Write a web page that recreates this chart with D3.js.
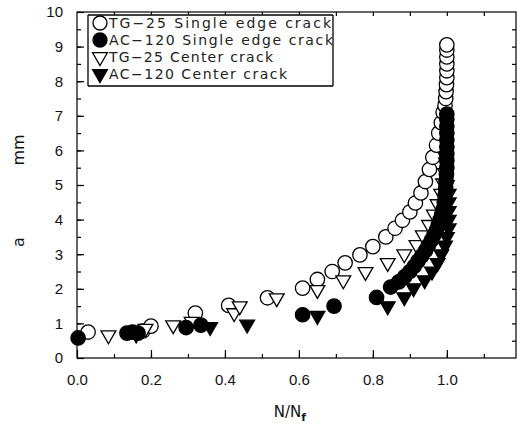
<!DOCTYPE html>
<html>
<head>
<meta charset="utf-8">
<script src="https://cdn.jsdelivr.net/npm/d3@7"></script>
<style>
  body { margin: 0; background: #fff; }
  svg { display: block; font-family: "DejaVu Sans", sans-serif; }
  .axis path { display: none; }
  .axis line { stroke: #000; stroke-width: 1.2; }
  .axis text { font-size: 15px; fill: #111; }
</style>
</head>
<body>
<div id="chart"></div>
<script>
// TG-25 single edge crack (open circles)
const tgEdgeX = [0.03, 0.178, 0.2, 0.32, 0.41, 0.515, 0.61, 0.65, 0.69, 0.725, 0.765, 0.80, 0.835, 0.86, 0.88, 0.90, 0.915, 0.93, 0.942, 0.953, 0.962, 0.972, 0.978, 0.985, 0.99, 0.995, 0.997, 0.998, 0.999, 1.0, 1.0, 1.0, 1.0, 1.0, 1.0];
const tgEdgeY = [0.75, 0.78, 0.92, 1.3, 1.52, 1.74, 2.02, 2.27, 2.5, 2.75, 2.98, 3.22, 3.5, 3.75, 3.98, 4.22, 4.48, 4.77, 5.1, 5.45, 5.8, 6.15, 6.5, 6.8, 7.1, 7.3, 7.5, 7.7, 7.9, 8.1, 8.3, 8.5, 8.7, 8.9, 9.05];
// AC-120 single edge crack (filled circles)
const acEdgeX = [0.003, 0.135, 0.15, 0.165, 0.295, 0.335, 0.61, 0.695, 0.81, 0.848, 0.87, 0.886, 0.9, 0.912, 0.922, 0.932, 0.942, 0.95, 0.958, 0.965, 0.972, 0.977, 0.982, 0.986, 0.99, 0.993, 0.995, 0.997, 0.998, 0.999, 1.0, 1.0, 1.0, 1.0, 1.0, 1.0, 1.0, 1.0, 1.0];
const acEdgeY = [0.58, 0.72, 0.75, 0.72, 0.88, 0.95, 1.25, 1.5, 1.75, 2.05, 2.2, 2.35, 2.5, 2.65, 2.8, 2.95, 3.1, 3.25, 3.4, 3.55, 3.7, 3.85, 4.0, 4.15, 4.3, 4.5, 4.7, 4.9, 5.1, 5.3, 5.5, 5.7, 5.9, 6.1, 6.3, 6.5, 6.7, 6.9, 7.05];
// TG-25 center crack (open triangles)
const tgCenterX = [0.085, 0.185, 0.26, 0.31, 0.425, 0.44, 0.54, 0.65, 0.72, 0.78, 0.84, 0.885, 0.918, 0.935, 0.952, 0.965, 0.975, 0.985, 0.99, 0.995, 0.998];
const tgCenterY = [0.66, 0.85, 0.95, 1.05, 1.3, 1.5, 1.73, 1.97, 2.25, 2.49, 2.75, 3.0, 3.27, 3.55, 3.85, 4.15, 4.45, 4.75, 5.05, 5.35, 5.65];
// AC-120 center crack (filled triangles)
const acCenterX = [0.16, 0.36, 0.46, 0.65, 0.84, 0.885, 0.91, 0.94, 0.96, 0.975, 0.985, 0.995, 1.0, 1.005, 1.005, 1.005, 1.005, 1.005, 1.0];
const acCenterY = [0.68, 0.9, 0.97, 1.22, 1.5, 1.76, 2.02, 2.25, 2.5, 2.75, 3.0, 3.25, 3.5, 3.75, 4.0, 4.25, 4.5, 4.75, 5.0];

const xTicks = [0, 0.2, 0.4, 0.6, 0.8, 1.0];
const yTicks = [0, 1, 2, 3, 4, 5, 6, 7, 8, 9, 10];
const legendLabels = ["TG\u221225 Single edge crack", "AC\u2212120 Single edge crack", "TG\u221225 Center crack", "AC\u2212120 Center crack"];

const W = 517, H = 429;
const svg = d3.select('#chart').append('svg').attr('width', W).attr('height', H);

const x = d3.scaleLinear().domain([0, 1.187]).range([77, 516]);
const y = d3.scaleLinear().domain([0, 10]).range([358, 12]);

// frame
svg.append('rect')
  .attr('x', 77).attr('y', 12)
  .attr('width', 516 - 77).attr('height', 358 - 12)
  .attr('fill', 'none').attr('stroke', '#000').attr('stroke-width', 1.2);

const xMinor = d3.range(0.1, 1.15, 0.1);
const yMinor = d3.range(0.5, 10, 0.5);

// bottom
svg.append('g').attr('class', 'axis').attr('transform', 'translate(0,358)')
  .call(d3.axisBottom(x).tickValues(xMinor).tickSize(-4).tickFormat(''));
svg.append('g').attr('class', 'axis').attr('transform', 'translate(0,358)')
  .call(d3.axisBottom(x).tickValues(xTicks).tickSize(-8).tickPadding(16).tickFormat(d3.format('.1f')));
// top
svg.append('g').attr('class', 'axis').attr('transform', 'translate(0,12)')
  .call(d3.axisTop(x).tickValues(xMinor).tickSize(-4).tickFormat(''));
// left
svg.append('g').attr('class', 'axis').attr('transform', 'translate(77,0)')
  .call(d3.axisLeft(y).tickValues(yMinor).tickSize(-4).tickFormat(''));
svg.append('g').attr('class', 'axis').attr('transform', 'translate(77,0)')
  .call(d3.axisLeft(y).tickValues(yTicks).tickSize(-7).tickPadding(14).tickFormat(d3.format('d')));
// right
svg.append('g').attr('class', 'axis').attr('transform', 'translate(516,0)')
  .call(d3.axisRight(y).tickValues(yMinor).tickSize(-4).tickFormat(''));

// axis titles
svg.append('text')
  .attr('transform', 'translate(24,242) rotate(-90)')
  .attr('text-anchor', 'middle').attr('font-size', 16).attr('fill', '#111')
  .text('a');
svg.append('text')
  .attr('transform', 'translate(24,150) rotate(-90)')
  .attr('text-anchor', 'middle').attr('font-size', 16).attr('fill', '#111')
  .text('mm');

const xl = svg.append('text')
  .attr('x', 290).attr('y', 417)
  .attr('text-anchor', 'middle').attr('font-size', 15).attr('fill', '#111');
xl.append('tspan').text('N/N');
xl.append('tspan').attr('font-size', 11).attr('dy', 4).attr('font-weight', 'bold').text('f');

// markers
const pts = (xs, ys) => xs.map((v, i) => [v, ys[i]]);
const tri = d3.symbol().type(d3.symbolTriangle).size(95);

function drawCircles(data, filled) {
  svg.append('g').selectAll('circle')
    .data(data).enter().append('circle')
    .attr('cx', d => x(d[0])).attr('cy', d => y(d[1]))
    .attr('r', 7.2)
    .attr('fill', filled ? '#000' : '#fff')
    .attr('stroke', '#000').attr('stroke-width', 1.3);
}
function drawTriangles(data, filled) {
  svg.append('g').selectAll('path')
    .data(data).enter().append('path')
    .attr('d', tri)
    .attr('transform', d => `translate(${x(d[0])},${y(d[1])}) rotate(180)`)
    .attr('fill', filled ? '#000' : '#fff')
    .attr('stroke', '#000').attr('stroke-width', 1.3);
}

drawCircles(pts(tgEdgeX, tgEdgeY), false);
drawTriangles(pts(tgCenterX, tgCenterY), false);
drawCircles(pts(acEdgeX, acEdgeY), true);
drawTriangles(pts(acCenterX, acCenterY), true);

// legend box as four separate lines
const lg = svg.append('g').attr('class', 'legend');
const bx0 = 88, by0 = 15, bx1 = 333, by1 = 86;
lg.append('rect').attr('x', bx0).attr('y', by0).attr('width', bx1 - bx0).attr('height', by1 - by0).attr('fill', '#fff');
[[bx0, by0, bx1, by0], [bx1, by0, bx1, by1], [bx1, by1, bx0, by1], [bx0, by1, bx0, by0]].forEach(s => {
  lg.append('line')
    .attr('x1', s[0]).attr('y1', s[1]).attr('x2', s[2]).attr('y2', s[3])
    .attr('stroke', '#000').attr('stroke-width', 1.3);
});
const rowY = [23, 40, 57, 74];
const textLen = [222, 224, 164, 178];
legendLabels.forEach((lab, i) => {
  const filled = i % 2 === 1;
  if (i < 2) {
    lg.append('circle').attr('cx', 100).attr('cy', rowY[i]).attr('r', 7)
      .attr('fill', filled ? '#000' : '#fff').attr('stroke', '#000').attr('stroke-width', 1.3);
  } else {
    lg.append('path').attr('d', tri)
      .attr('transform', `translate(100,${rowY[i]}) rotate(180)`)
      .attr('fill', filled ? '#000' : '#fff').attr('stroke', '#000').attr('stroke-width', 1.3);
  }
  lg.append('text')
    .attr('x', 109).attr('y', rowY[i] + 5)
    .attr('font-size', 14).attr('fill', '#222')
    .attr('textLength', textLen[i]).attr('lengthAdjust', 'spacing')
    .text(lab);
});
</script>
</body>
</html>
